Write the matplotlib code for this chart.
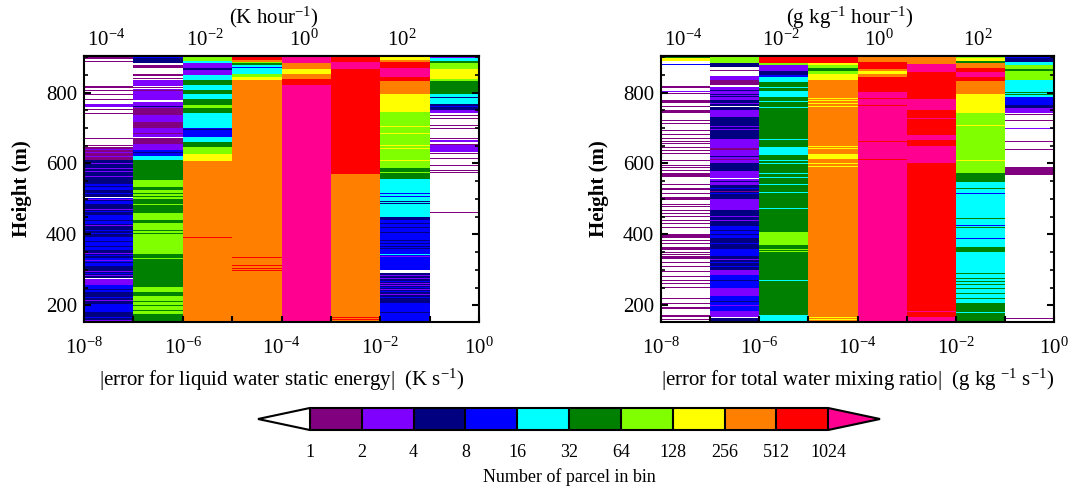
import numpy as np
import matplotlib
matplotlib.use('Agg')
import matplotlib.pyplot as plt
from matplotlib.colors import ListedColormap, BoundaryNorm
from matplotlib.ticker import LogLocator, FuncFormatter, NullLocator, MultipleLocator, FixedLocator

plt.rcParams['font.family'] = ['Liberation Serif', 'DejaVu Serif']
plt.rcParams['mathtext.fontset'] = 'custom'
plt.rcParams['mathtext.rm'] = 'Liberation Serif'
plt.rcParams['mathtext.it'] = 'Liberation Serif:italic'
plt.rcParams['mathtext.bf'] = 'Liberation Serif:bold'

# ---- data ---------------------------------------------------------------
# error bins (decades, s^-1) and height grid (m)
bin_exponents = [-8, -7, -6, -5, -4, -3, -2, -1, 0]
top_exponents = [-4, -3, -2, -1, 0, 1, 2, 3]  # per hour
z_bottom, z_top = 153, 903

# colour bin edges: number of parcels in bin
count_bounds = [1, 2, 4, 8, 16, 32, 64, 128, 256, 512, 1024]
bin_colors = ['#800080', '#8000ff', '#000080', '#0000ff', '#00ffff', '#008000',
              '#80ff00', '#ffff00', '#ff8000', '#ff0000']
under_color, over_color = '#ffffff', '#ff0090'

# each column: runs (z_lo, z_hi, count) and thin stripes (count, [z ...])
# counts: 0 none, 1,2,4,8,16,32,64,128,256,512 lower edge of bin, 1024 = over
lwse_runs = [
    [(882, 903, 0), (647, 882, 0), (760, 767, 2), (609, 647, 1), (543, 609, 4), (525, 543, 8),
     (505, 525, 4), (485, 505, 8), (455, 485, 4), (430, 455, 8), (393, 430, 4), (356, 393, 8),
     (333, 356, 4), (310, 333, 8), (276, 310, 4), (257, 276, 2), (238, 257, 8), (205, 238, 4),
     (180, 205, 8), (158, 180, 4), (153, 158, 2)],
    [(882, 903, 4), (868, 877, 1), (851, 868, 0), (846, 851, 1), (835, 846, 0), (818, 835, 2),
     (811, 818, 0), (797, 811, 2), (778, 797, 2), (774, 778, 0), (755, 774, 2), (736, 755, 1),
     (717, 736, 2), (699, 717, 1), (675, 699, 2), (672, 675, 0), (656, 672, 1), (637, 656, 2),
     (620, 637, 8), (611, 620, 16), (553, 611, 32), (534, 553, 64), (525, 534, 32),
     (501, 525, 64), (459, 501, 32), (440, 459, 64), (431, 440, 32), (346, 431, 64),
     (252, 346, 32), (238, 252, 64), (225, 238, 32), (176, 225, 64), (153, 176, 32)],
    [(889, 903, 64), (882, 889, 16), (868, 882, 2), (863, 868, 4), (849, 863, 2), (835, 849, 16),
     (820, 835, 32), (806, 820, 16), (797, 806, 32), (783, 797, 16), (764, 783, 32),
     (755, 764, 64), (741, 755, 32), (699, 741, 16), (675, 699, 8), (661, 675, 16),
     (647, 661, 32), (628, 647, 64), (607, 628, 128), (153, 607, 256)],
    [(893, 903, 512), (886, 893, 256), (882, 886, 64), (877, 882, 32), (853, 877, 16),
     (844, 853, 64), (835, 844, 128), (153, 835, 256)],
    [(882, 903, 1024), (866, 882, 256), (852, 866, 128), (839, 852, 256), (821, 839, 512),
     (153, 821, 1024)],
    [(885, 903, 512), (865, 885, 1024), (570, 865, 512), (153, 570, 256)],
    [(893, 903, 128), (887, 893, 256), (868, 887, 512), (844, 868, 1024), (833, 844, 512),
     (797, 833, 256), (745, 797, 128), (586, 745, 64), (557, 586, 32), (520, 557, 16),
     (478, 520, 16), (450, 478, 16), (440, 450, 4), (337, 440, 8), (299, 337, 8),
     (206, 292, 4), (153, 206, 8)],
    [(896, 903, 2), (890, 896, 16), (882, 890, 32), (865, 882, 64), (839, 865, 128),
     (832, 839, 64), (797, 832, 32), (769, 797, 16), (750, 769, 4), (741, 750, 2),
     (656, 741, 0), (660, 667, 2), (651, 656, 1), (633, 651, 2), (153, 633, 0)],
]
lwse_stripes = [
    [(1, [899, 895, 887, 818, 814, 805, 795, 780, 752, 741, 711, 670, 666, 651]),
     (2, [640, 630, 620, 600, 586, 577, 564, 553, 499, 470, 446, 425, 346, 327, 296, 285,
          226, 214, 195, 170]),
     (8, [590, 570, 515, 465, 410, 402, 341, 290, 222, 165]),
     (4, [535, 495, 440, 380, 365, 320, 245, 190]),
     (0, [505, 276])],
    [(8, [898]), (1, [840, 815, 805, 685]), (4, [768, 760, 725, 630]), (2, [745]),
     (32, [515, 507, 410, 402, 210, 200, 186]), (64, [485, 333, 325])],
    [(4, [696]), (512, [401, 391])],
    [(8, [870]), (128, [689, 680]), (512, [335, 313, 304, 298])],
    [],
    [(512, [565, 534, 166, 160, 156])],
    [(128, [705, 694, 684, 651, 642, 609]), (64, [575]), (8, [515, 506]),
     (4, [492, 487, 430, 420, 412, 405, 390, 382, 375, 365, 360, 195, 180]),
     (16, [415, 350, 344, 308, 325]),
     (2, [337, 285, 275, 262, 245, 230, 215, 256]), (8, [268, 250, 238, 222]), (0, [294])],
    [(4, [785]), (8, [760]), (1, [736, 727, 717, 708, 699, 689, 680, 670, 628, 621, 614,
                                 595, 581, 574, 462])],
]

qt_runs = [
    [(888, 903, 128), (153, 888, 0), (814, 818, 1), (771, 778, 1), (741, 750, 1), (680, 684, 1),
     (562, 572, 1), (525, 532, 1), (497, 506, 1), (391, 402, 1), (356, 365, 1), (330, 339, 1),
     (189, 196, 1), (168, 172, 1)],
    [(882, 903, 64), (872, 882, 4), (848, 872, 0), (834, 848, 2), (820, 834, 1), (815, 820, 0),
     (780, 815, 2), (750, 780, 4), (730, 750, 2), (670, 730, 4), (645, 670, 2), (637, 645, 1),
     (600, 637, 2), (580, 600, 4), (540, 580, 2), (500, 540, 4), (470, 500, 2), (425, 470, 4),
     (390, 425, 8), (360, 390, 4), (340, 360, 8), (300, 340, 4), (285, 300, 2), (250, 285, 8),
     (225, 250, 2), (185, 225, 8), (168, 185, 2), (165, 168, 0), (153, 165, 4)],
    [(884, 903, 512), (878, 884, 64), (860, 878, 2), (850, 860, 4), (844, 850, 8),
     (830, 844, 16), (804, 830, 32), (788, 804, 16), (647, 788, 32), (623, 647, 16),
     (407, 623, 32), (370, 407, 64), (172, 370, 32), (153, 172, 16)],
    [(882, 903, 512), (877, 882, 128), (870, 877, 64), (860, 870, 32), (852, 860, 64),
     (836, 852, 128), (153, 836, 256), (612, 628, 128)],
    [(886, 903, 256), (867, 886, 512), (862, 867, 256), (852, 862, 128), (843, 852, 256),
     (802, 843, 512), (153, 802, 1024)],
    [(880, 903, 256), (858, 880, 1024), (783, 858, 512), (750, 783, 1024), (680, 750, 512),
     (665, 680, 1024), (650, 665, 512), (600, 650, 1024), (168, 600, 512), (153, 168, 1024)],
    [(896, 903, 64), (890, 896, 128), (884, 890, 32), (870, 884, 256), (858, 870, 512),
     (844, 858, 1024), (833, 844, 512), (797, 833, 256), (743, 797, 128), (572, 743, 64),
     (548, 572, 32), (206, 548, 16), (351, 365, 32), (153, 206, 32)],
    [(896, 903, 8), (886, 896, 4), (877, 886, 16), (867, 877, 64), (862, 867, 32),
     (834, 862, 64), (787, 834, 16), (764, 787, 8), (755, 764, 4), (741, 755, 2),
     (590, 741, 0), (567, 590, 1), (153, 567, 0)],
]
qt_stripes = [
    [(32, [898]), (8, [880]), (2, [802, 455, 250]),
     (1, [797, 790, 760, 731, 722, 712, 703, 692, 670, 662, 656, 646, 637, 628, 621, 609, 595,
          589, 580, 548, 540, 515, 485, 478, 468, 459, 450, 440, 431, 420, 383, 375, 348, 344,
          320, 309, 300, 295, 288, 281, 270, 262, 250, 243, 235, 226, 220, 205, 181, 161])],
    [(1, [862, 855, 655, 612, 520, 480, 300]),
     (2, [827, 770, 760, 705, 695, 680, 450, 440, 370, 330, 310, 270, 200, 195, 178]),
     (4, [805, 795, 788, 620, 565, 550, 410, 400, 350, 270, 260, 240, 210, 190]),
     (0, [558, 760]), (8, [320, 310, 530, 515, 455, 435, 375])],
    [(16, [815, 775, 765, 758, 703, 668, 609, 600, 590, 572, 560, 540, 525, 519, 473, 336,
           271]),
     (32, [390]), (64, [357, 352])],
    [(128, [783, 777, 769, 761, 751, 680, 672, 648, 642, 600, 592, 170, 165, 160])],
    [(512, [783, 764, 661, 611])],
    [(512, [765]), (1024, [727, 182])],
    [(128, [708, 680, 652, 609]), (8, [515, 463, 426, 412, 388, 311]),
     (32, [530, 500, 445, 420, 336, 325, 300, 290, 280, 275, 267, 258, 247, 233, 220]),
     (16, [180])],
    [(32, [800, 795]), (8, [790]), (1, [738, 731, 722, 694, 661, 652, 640, 163]),
     (2, [703, 699, 689, 680, 675, 666])],
]

# ---- plotting -----------------------------------------------------------
X_EDGES = 10.0 ** np.array(bin_exponents, dtype=float)
Z_EDGES = np.arange(z_bottom, z_top + 1, 1.0)

cmap = ListedColormap(bin_colors)
cmap.set_under(under_color)
cmap.set_over(over_color)
norm = BoundaryNorm(count_bounds, cmap.N)


def build_grid(runs, stripes):
    zc = 0.5 * (Z_EDGES[:-1] + Z_EDGES[1:])
    grid = np.zeros((zc.size, len(runs)))
    for j in range(len(runs)):
        for lo, hi, n in runs[j]:
            grid[(zc >= lo) & (zc < hi), j] = n
        for n, zs in stripes[j]:
            for z in zs:
                grid[np.abs(zc - z) < 1.5, j] = n
    return grid


def even_decades(v, pos):
    e = int(round(np.log10(v)))
    return r'$10^{%d}$' % e if e % 2 == 0 else ''


def draw_panel(ax, grid, xlabel, toplabel):
    mesh = ax.pcolormesh(X_EDGES, Z_EDGES, grid, cmap=cmap, norm=norm,
                         antialiased=False, edgecolors='none')
    ax.set_xscale('log')
    ax.set_xlim(X_EDGES[0], X_EDGES[-1])
    ax.set_ylim(z_bottom, z_top)
    ax.xaxis.set_major_locator(FixedLocator(X_EDGES))
    ax.xaxis.set_major_formatter(FuncFormatter(even_decades))
    ax.xaxis.set_minor_locator(NullLocator())
    ax.set_yticks([200, 400, 600, 800])
    ax.yaxis.set_minor_locator(MultipleLocator(50))
    ax.tick_params(axis='x', which='major', direction='in', length=4, width=1.5,
                   labelsize=15, pad=11)
    ax.tick_params(axis='y', which='major', direction='in', length=5, width=1.5,
                   labelsize=15, right=True, pad=5)
    ax.tick_params(axis='y', which='minor', direction='in', length=3, width=1.2, right=True)
    for s in ax.spines.values():
        s.set_linewidth(1.5)
    ax.set_xlabel(xlabel, fontsize=15, labelpad=6)
    ax.set_ylabel('Height (m)', fontsize=15, fontweight='bold', labelpad=10)

    sec = ax.secondary_xaxis('top', functions=(lambda x: x * 3600.0, lambda x: x / 3600.0))
    sec.xaxis.set_major_locator(FixedLocator(10.0 ** np.array(top_exponents, dtype=float)))
    sec.xaxis.set_major_formatter(FuncFormatter(even_decades))
    sec.xaxis.set_minor_locator(NullLocator())
    sec.tick_params(direction='in', length=4, width=1.5, labelsize=15, pad=4)
    sec.spines['top'].set_linewidth(1.5)
    sec.set_xlabel(toplabel, fontsize=15, labelpad=4)
    sec.xaxis.label.set_x(0.48)
    return mesh


fig = plt.figure(figsize=(10.75, 4.88), dpi=100)
W, H = 1075.0, 488.0
ax1 = fig.add_axes([84 / W, 1 - 322 / H, 395 / W, 266 / H])
ax2 = fig.add_axes([661 / W, 1 - 322 / H, 393 / W, 266 / H])

mesh = draw_panel(ax1, build_grid(lwse_runs, lwse_stripes),
                  r'|error for liquid water static energy|  (K s$^{-1}$)', r'(K hour$^{-1}$)')
draw_panel(ax2, build_grid(qt_runs, qt_stripes),
           r'|error for total water mixing ratio|  (g kg $^{-1}$ s$^{-1}$)',
           r'(g kg$^{-1}$ hour$^{-1}$)')

# colour bar (extension triangles are drawn inside these bounds)
cax = fig.add_axes([258 / W, 1 - 430 / H, 622 / W, 22 / H])
cb = fig.colorbar(mesh, cax=cax, orientation='horizontal', extend='both',
                  extendfrac='auto', drawedges=True, ticks=count_bounds, spacing='uniform')
cb.ax.tick_params(length=0, labelsize=13, pad=10)
cb.ax.set_xticklabels([str(b) for b in count_bounds])
cb.outline.set_linewidth(1.5)
cb.dividers.set_linewidth(1.5)
cb.set_label('Number of parcel in bin', fontsize=13, labelpad=5)

fig.savefig('out.png', dpi=100)
